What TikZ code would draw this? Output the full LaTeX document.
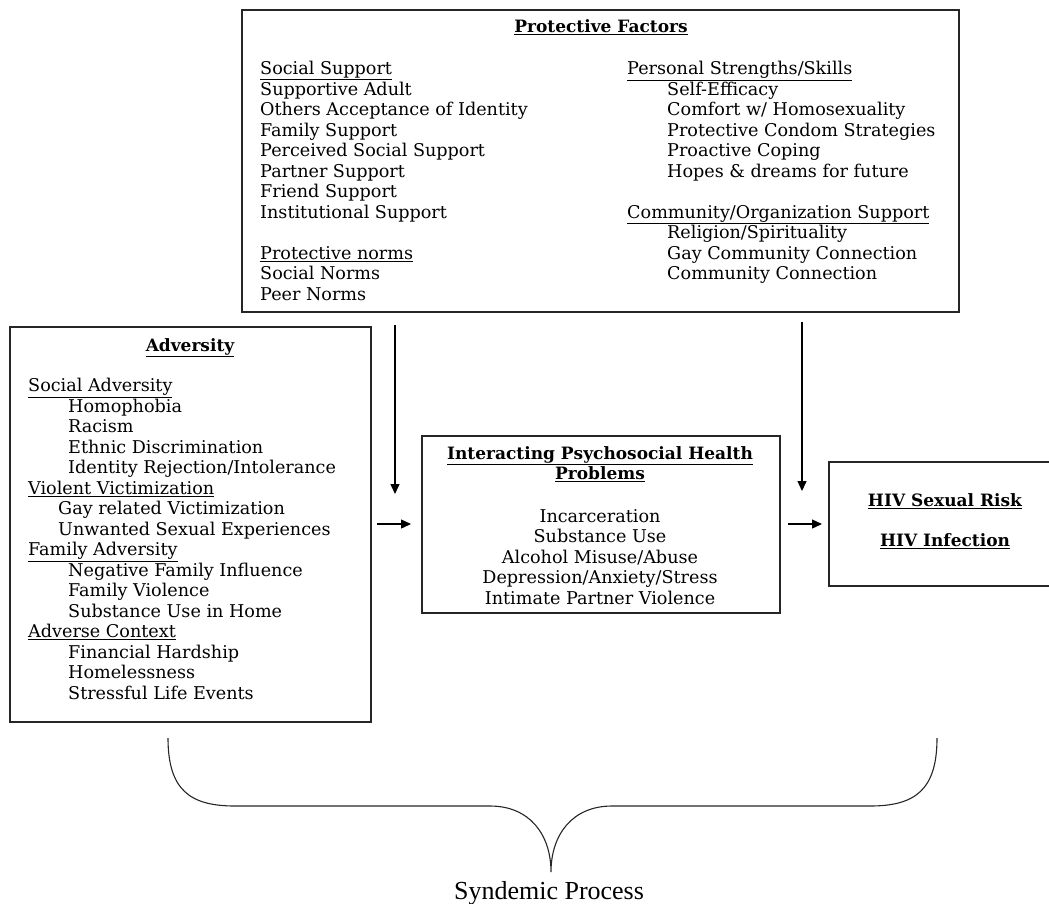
\documentclass[tikz,border=0pt]{standalone}
\usepackage{fontspec}
\setmainfont{DejaVu Serif}
\newfontfamily\timesfont{Liberation Serif}
\usetikzlibrary{arrows.meta}
\begin{document}
\begin{tikzpicture}[x=1pt,y=-1pt,
  box/.style={draw=black!85, line width=1.8pt, inner sep=0pt, anchor=north west},
  txt/.style={inner sep=0pt, align=left, anchor=north west, font=\fontsize{17.6}{20.5}\selectfont},
  ctxt/.style={inner sep=0pt, align=center, anchor=north, font=\fontsize{17.6}{20.5}\selectfont},
  btxt/.style={inner sep=0pt, align=center, anchor=north, font=\fontsize{17}{20.5}\selectfont\bfseries},
  arr/.style={-{Triangle[length=10pt,width=9pt]}, line width=1.3pt},
  brace/.style={line width=1.1pt, black!85}
]
\clip (0,0) rectangle (1049,903);
% boxes
\node[box, minimum width=717pt, minimum height=302pt] (pf) at (241,9) {};
\node[box, minimum width=361pt, minimum height=395pt] (adv) at (9,326) {};
\node[box, minimum width=358pt, minimum height=177pt] (ipp) at (421,435) {};
\node[box, minimum width=240pt, minimum height=124pt] (hiv) at (828,461) {};
% protective factors
\node[btxt] (pft) at (601,19) {\underline{Protective Factors}};
\node[txt] (pfl) at (260,61) {\underline{Social Support}\\
Supportive Adult\\
Others Acceptance of Identity\\
Family Support\\
Perceived Social Support\\
Partner Support\\
Friend Support\\
Institutional Support\\
\mbox{}\\
\underline{Protective norms}\\
Social Norms\\
Peer Norms};
\node[txt] (pfr) at (627,61) {\underline{Personal Strengths/Skills}\\
\hspace*{40pt}Self-Efficacy\\
\hspace*{40pt}Comfort w/ Homosexuality\\
\hspace*{40pt}Protective Condom Strategies\\
\hspace*{40pt}Proactive Coping\\
\hspace*{40pt}Hopes \& dreams for future\\
\mbox{}\\
\underline{Community/Organization Support}\\
\hspace*{40pt}Religion/Spirituality\\
\hspace*{40pt}Gay Community Connection\\
\hspace*{40pt}Community Connection};
% adversity
\node[btxt] (advt) at (190,338) {\underline{Adversity}};
\node[txt] (advl) at (28,378) {\underline{Social Adversity}\\
\hspace*{40pt}Homophobia\\
\hspace*{40pt}Racism\\
\hspace*{40pt}Ethnic Discrimination\\
\hspace*{40pt}Identity Rejection/Intolerance\\
\underline{Violent Victimization}\\
\hspace*{30pt}Gay related Victimization\\
\hspace*{30pt}Unwanted Sexual Experiences\\
\underline{Family Adversity}\\
\hspace*{40pt}Negative Family Influence\\
\hspace*{40pt}Family Violence\\
\hspace*{40pt}Substance Use in Home\\
\underline{Adverse Context}\\
\hspace*{40pt}Financial Hardship\\
\hspace*{40pt}Homelessness\\
\hspace*{40pt}Stressful Life Events};
% interacting
\node[btxt] (ippt) at (600,446) {\underline{Interacting Psychosocial Health}\\
\underline{Problems}};
\node[ctxt] (ippl) at (600,509) {Incarceration\\
Substance Use\\
Alcohol Misuse/Abuse\\
Depression/Anxiety/Stress\\
Intimate Partner Violence};
% hiv
\node[btxt] (hiv1) at (945,493) {\underline{HIV Sexual Risk}};
\node[btxt] (hiv2) at (945,533) {\underline{HIV Infection}};
% arrows
\coordinate (a1s) at (395,325);
\coordinate (a1e) at (395,494);
\coordinate (a2s) at (377,524);
\coordinate (a2e) at (411,524);
\coordinate (a3s) at (802,322);
\coordinate (a3e) at (802,491);
\coordinate (a4s) at (788,524);
\coordinate (a4e) at (822,524);
\draw[arr] (a1s) -- (a1e);
\draw[arr] (a2s) -- (a2e);
\draw[arr] (a3s) -- (a3e);
\draw[arr] (a4s) -- (a4e);
% brace
\coordinate (bl) at (168,738);
\coordinate (bm) at (551,872);
\coordinate (br) at (937,738);
\draw[brace] (bl) .. controls (168,790) and (190,806) .. (235,806) -- (490,806)
  .. controls (530,806) and (551,835) .. (bm)
  .. controls (551,835) and (572,806) .. (612,806) -- (870,806)
  .. controls (915,806) and (937,790) .. (br);
\node[inner sep=0pt, font=\timesfont\fontsize{26}{28}\selectfont] (syn) at (549,893) {Syndemic Process};
\end{tikzpicture}
\end{document}
